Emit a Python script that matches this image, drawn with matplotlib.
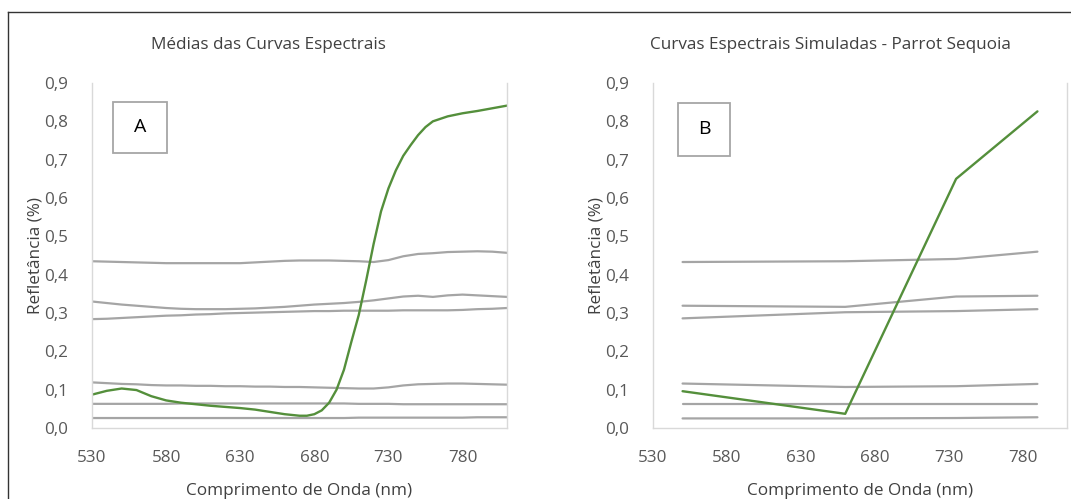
import matplotlib
matplotlib.use("Agg")
import matplotlib.pyplot as plt
from matplotlib.patches import Rectangle

plt.rcParams['font.family'] = ['Open Sans', 'DejaVu Sans']

# ---------------- Data: panel A (mean spectral curves) ----------------
wl_a = [530, 540, 550, 560, 570, 580, 590, 600, 610, 620, 630, 640, 650, 660,
        670, 680, 690, 700, 710, 720, 730, 740, 750, 760, 770, 780, 790, 800, 810]
gray1_a = [0.435, 0.434, 0.433, 0.432, 0.431, 0.430, 0.430, 0.430, 0.430, 0.430,
           0.430, 0.432, 0.434, 0.436, 0.437, 0.437, 0.437, 0.436, 0.435, 0.433,
           0.438, 0.448, 0.454, 0.456, 0.459, 0.460, 0.461, 0.460, 0.457]
gray2_a = [0.330, 0.326, 0.322, 0.319, 0.316, 0.313, 0.311, 0.310, 0.310, 0.310,
           0.311, 0.312, 0.314, 0.316, 0.319, 0.322, 0.324, 0.326, 0.329, 0.333,
           0.338, 0.343, 0.345, 0.342, 0.346, 0.348, 0.346, 0.344, 0.342]
gray3_a = [0.284, 0.285, 0.287, 0.289, 0.291, 0.293, 0.294, 0.296, 0.297, 0.299,
           0.300, 0.301, 0.302, 0.303, 0.304, 0.305, 0.305, 0.306, 0.306, 0.306,
           0.306, 0.307, 0.307, 0.307, 0.307, 0.308, 0.310, 0.311, 0.313]
gray4_a = [0.119, 0.117, 0.115, 0.114, 0.112, 0.111, 0.111, 0.110, 0.110, 0.109,
           0.109, 0.108, 0.108, 0.107, 0.107, 0.106, 0.105, 0.104, 0.103, 0.103,
           0.106, 0.111, 0.114, 0.115, 0.116, 0.116, 0.115, 0.114, 0.113]
gray5_a = [0.063, 0.063, 0.063, 0.063, 0.063, 0.063, 0.064, 0.064, 0.064, 0.064,
           0.064, 0.064, 0.064, 0.064, 0.064, 0.064, 0.064, 0.064, 0.063, 0.063,
           0.063, 0.062, 0.062, 0.062, 0.062, 0.062, 0.062, 0.062, 0.062]
gray6_a = [0.026, 0.026, 0.026, 0.026, 0.026, 0.026, 0.026, 0.026, 0.026, 0.026,
           0.026, 0.026, 0.026, 0.026, 0.026, 0.026, 0.026, 0.026, 0.027, 0.027,
           0.027, 0.027, 0.027, 0.027, 0.027, 0.027, 0.028, 0.028, 0.028]

wl_veg_a = [530, 540, 550, 560, 570, 580, 590, 600, 610, 620, 630, 640, 650, 660,
            670, 675, 680, 685, 690, 695, 700, 705, 710, 715, 720, 725, 730, 735,
            740, 745, 750, 755, 760, 770, 780, 790, 800, 810]
veg_a = [0.087, 0.097, 0.103, 0.099, 0.083, 0.072, 0.066, 0.062, 0.058, 0.055,
         0.052, 0.048, 0.042, 0.036, 0.032, 0.032, 0.036, 0.046, 0.066, 0.100,
         0.152, 0.225, 0.295, 0.385, 0.480, 0.565, 0.625, 0.672, 0.710, 0.738,
         0.764, 0.785, 0.800, 0.813, 0.821, 0.827, 0.834, 0.841]

# ---------------- Data: panel B (simulated Parrot Sequoia bands) ----------------
wl_b = [550, 660, 735, 790]
gray1_b = [0.433, 0.435, 0.441, 0.460]
gray2_b = [0.319, 0.316, 0.343, 0.345]
gray3_b = [0.286, 0.302, 0.305, 0.310]
gray4_b = [0.116, 0.107, 0.109, 0.115]
gray5_b = [0.062, 0.062, 0.062, 0.062]
gray6_b = [0.025, 0.025, 0.026, 0.028]
veg_b = [0.096, 0.037, 0.650, 0.826]

x_ticks = [530, 580, 630, 680, 730, 780]
y_ticks = [0.0, 0.1, 0.2, 0.3, 0.4, 0.5, 0.6, 0.7, 0.8, 0.9]
y_tick_labels = ['0,0', '0,1', '0,2', '0,3', '0,4', '0,5', '0,6', '0,7', '0,8', '0,9']

titles = ['Médias das Curvas Espectrais', 'Curvas Espectrais Simuladas - Parrot Sequoia']
panel_letters = ['A', 'B']
x_label = 'Comprimento de Onda (nm)'
y_label = 'Refletância (%)'

GRAY = '#a5a5a5'
GREEN = '#548f3b'
SPINE = '#d9d9d9'
TICK_COL = '#595959'
TEXT_COL = '#404040'
FS = 12.3

W, H = 1071, 499
fig = plt.figure(figsize=(W / 100, H / 100), dpi=100)

def fx(px):
    return px / W

def fy(py):
    return 1 - py / H

# outer frame (left and top edges visible)
fig.add_artist(plt.Line2D([fx(7.5), fx(7.5)], [fy(11.5), 0], color='#333333', lw=1.0))
fig.add_artist(plt.Line2D([fx(7.5), 1], [fy(11.5), fy(11.5)], color='#333333', lw=1.0))

axes_px = [(92, 507), (653, 1067)]
top_px, bot_px = 83, 428

gray_a = [gray1_a, gray2_a, gray3_a, gray4_a, gray5_a, gray6_a]
gray_b = [gray1_b, gray2_b, gray3_b, gray4_b, gray5_b, gray6_b]

box_px = [(113, 102, 167, 153), (678, 103, 730, 156)]
title_x = [268, 830]
ylab_x = [36, 596]

for i, (l, r) in enumerate(axes_px):
    ax = fig.add_axes([fx(l), fy(bot_px), (r - l) / W, (bot_px - top_px) / H])
    if i == 0:
        for g in gray_a:
            ax.plot(wl_a, g, color=GRAY, lw=1.6, solid_capstyle='round')
        ax.plot(wl_veg_a, veg_a, color=GREEN, lw=1.7, solid_capstyle='round')
    else:
        for g in gray_b:
            ax.plot(wl_b, g, color=GRAY, lw=1.6, solid_capstyle='round')
        ax.plot(wl_b, veg_b, color=GREEN, lw=1.7, solid_capstyle='round')
    ax.set_xlim(530, 810)
    ax.set_ylim(0, 0.9)
    ax.set_xticks(x_ticks)
    ax.set_xticklabels([str(t) for t in x_ticks])
    ax.set_yticks(y_ticks)
    ax.set_yticklabels(y_tick_labels)
    ax.tick_params(length=0, colors=TICK_COL, labelsize=FS)
    ax.tick_params(axis='x', pad=15.5)
    ax.tick_params(axis='y', pad=17)
    for s in ['left', 'right', 'bottom']:
        ax.spines[s].set_color(SPINE)
        ax.spines[s].set_linewidth(1.0)
    ax.spines['top'].set_visible(False)
    ax.set_xlabel(x_label, fontsize=FS, color=TEXT_COL, labelpad=12.5)
    ax.set_ylabel(y_label, fontsize=FS, color=TEXT_COL)
    ax.yaxis.label.set_va('center')
    ax.yaxis.set_label_coords((ylab_x[i] - l) / (r - l), 0.5)

    bx0, by0, bx1, by1 = box_px[i]
    fig.add_artist(Rectangle((fx(bx0), fy(by1)), (bx1 - bx0) / W, (by1 - by0) / H,
                             fill=False, edgecolor='#a6a6a6', lw=1.3))
    fig.text(fx((bx0 + bx1) / 2), fy((by0 + by1) / 2), panel_letters[i],
             ha='center', va='center', fontsize=14, color='#000000')

    fig.text(fx(title_x[i]), fy(45), titles[i], ha='center', va='center',
             fontsize=FS, color=TEXT_COL)

fig.savefig('out.png', dpi=100, facecolor='white')
